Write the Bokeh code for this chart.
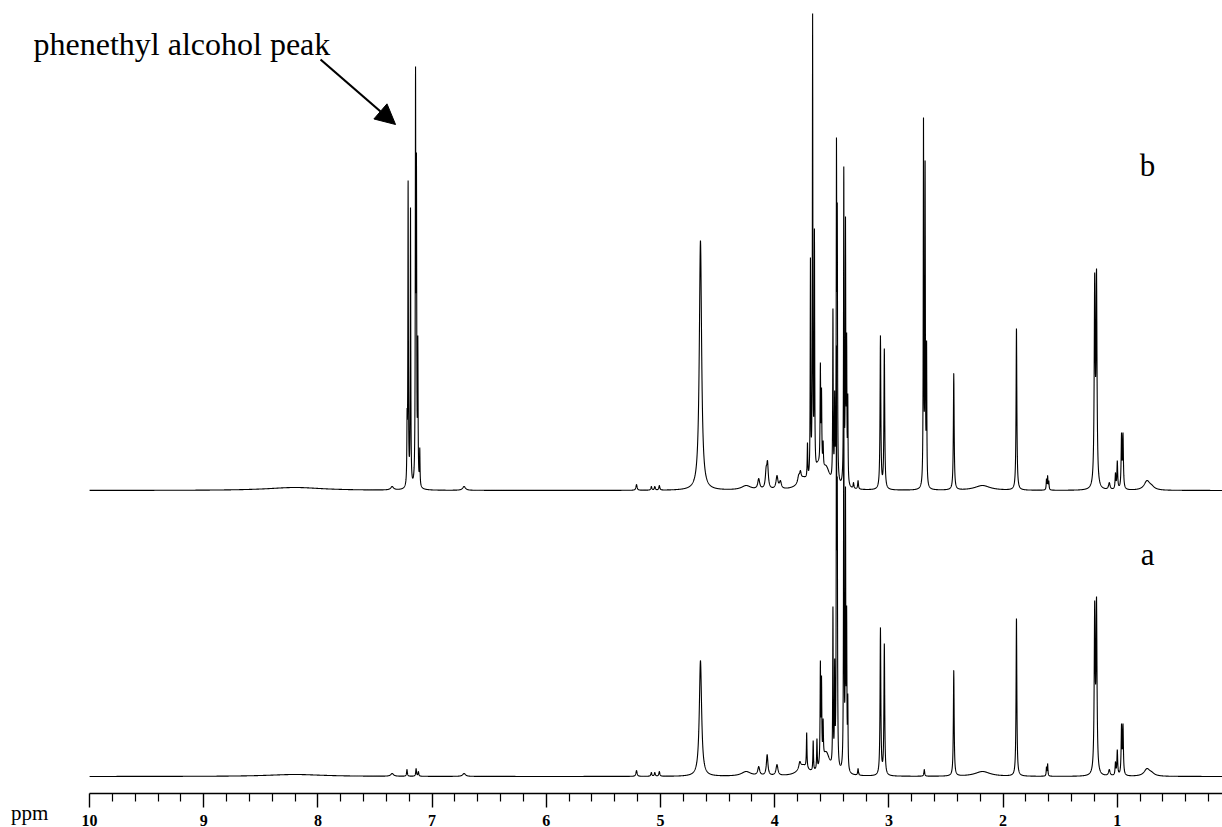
import numpy as np
from bokeh.plotting import figure
from bokeh.models import Range1d, FixedTicker, Label, Arrow, NormalHead
from bokeh.embed import file_html
from bokeh.resources import INLINE

# ---- peak tables: position (ppm), apparent peak-top height, half-width (ppm) ----
# spectrum b : sample with phenethyl alcohol
b_ppm = [8.20, 7.35, 7.219, 7.210, 7.189, 7.145, 7.137, 7.125, 7.108, 6.72,
         5.21, 5.08, 5.05, 5.01, 4.74, 4.70, 4.65, 4.25, 4.14, 4.075, 4.063,
         3.98, 3.95, 3.79, 3.775, 3.75, 3.713, 3.687, 3.668, 3.652, 3.62,
         3.60, 3.59, 3.576, 3.55, 3.49, 3.475, 3.459, 3.452, 3.395, 3.38,
         3.37, 3.36, 3.31, 3.27, 3.074, 3.04, 2.697, 2.683, 2.670, 2.432,
         2.25, 2.18, 1.883, 1.62, 1.61, 1.60, 1.198, 1.182, 1.07, 1.016,
         1.00, 0.963, 0.95, 0.74, 0.70]
b_height = [3, 4, 82, 310, 283, 424, 338, 155, 43, 4,
            6, 4, 4, 5, 3, 4, 250, 5, 12, 24, 30,
            15, 10, 16, 20, 14, 48, 233, 477, 262, 30,
            128, 103, 50, 25, 182, 100, 353, 288, 324, 274,
            158, 97, 8, 10, 155, 142, 373, 330, 150, 117,
            3, 5, 162, 12, 15, 10, 218, 222, 8, 18,
            30, 58, 58, 10, 6]
b_width = [0.30, 0.015, 0.0025, 0.0025, 0.0025, 0.0025, 0.0025, 0.0025, 0.0025, 0.015,
           0.006, 0.005, 0.005, 0.005, 0.01, 0.01, 0.012, 0.05, 0.01, 0.008, 0.008,
           0.01, 0.01, 0.01, 0.008, 0.05, 0.003, 0.0025, 0.0025, 0.0025, 0.03,
           0.003, 0.003, 0.003, 0.04, 0.0025, 0.0025, 0.0025, 0.0025, 0.0025, 0.0025,
           0.0025, 0.0025, 0.004, 0.004, 0.004, 0.004, 0.0025, 0.0025, 0.0025, 0.004,
           0.05, 0.08, 0.004, 0.003, 0.003, 0.003, 0.005, 0.005, 0.008, 0.004,
           0.004, 0.004, 0.004, 0.03, 0.03]

# spectrum a : reference sample
a_ppm = [8.20, 7.35, 7.22, 7.14, 7.12, 6.72, 5.21, 5.08, 5.05, 5.01, 4.70,
         4.65, 4.25, 4.14, 4.066, 3.98, 3.78, 3.75, 3.72, 3.663, 3.63, 3.60,
         3.59, 3.576, 3.55, 3.49, 3.475, 3.459, 3.452, 3.395, 3.38, 3.37,
         3.36, 3.27, 3.074, 3.04, 2.69, 2.432, 2.18, 1.883, 1.62, 1.61,
         1.198, 1.182, 1.07, 1.016, 1.00, 0.963, 0.95, 0.74, 0.70]
a_height = [2, 3, 7, 8, 5, 3, 6, 4, 4, 5, 4,
            116, 5, 10, 22, 12, 15, 12, 44, 36, 38, 116,
            101, 58, 25, 170, 118, 431, 300, 430, 290, 171,
            83, 8, 149, 133, 7, 106, 5, 158, 10, 13,
            176, 180, 7, 15, 27, 53, 53, 8, 5]
a_width = [0.30, 0.015, 0.004, 0.004, 0.004, 0.015, 0.006, 0.005, 0.005, 0.005, 0.01,
           0.012, 0.05, 0.01, 0.008, 0.01, 0.01, 0.05, 0.003, 0.003, 0.003, 0.003,
           0.003, 0.003, 0.04, 0.0025, 0.0025, 0.0025, 0.0025, 0.0025, 0.0025, 0.0025,
           0.0025, 0.004, 0.004, 0.004, 0.004, 0.004, 0.08, 0.004, 0.003, 0.003,
           0.005, 0.005, 0.008, 0.004, 0.004, 0.004, 0.004, 0.03, 0.03]

b_offset = 286          # vertical stacking of trace b above trace a
tick_values = [1, 2, 3, 4, 5, 6, 7, 8, 9, 10]
tick_labels = {t: str(t) for t in tick_values}
minor_values = [round(0.2 * k, 1) for k in range(1, 50) if k % 5 != 0]

PX_PER_PPM = 114.2
PPM_LEFT = 10 + 89 / PX_PER_PPM
PPM_RIGHT = 10 - (1222 - 89) / PX_PER_PPM
AXIS_Y = -17            # intensity level at which the ppm axis is drawn


def lorentz(x, c, w):
    return 1.0 / (1.0 + ((x - c) / w) ** 2)


def amplitudes(ppm, height, width):
    """Line amplitudes whose summed curve reaches each listed peak-top height."""
    c = np.asarray(ppm, float)
    w = np.asarray(width, float)
    target = np.asarray(height, float)
    A = lorentz(c[:, None], c[None, :], w[None, :])
    amp = target.copy()
    for _ in range(400):
        for i in range(len(c)):
            resid = target[i] - A[i] @ amp
            amp[i] = max(0.0, amp[i] + resid)
    return amp


def spectrum(ppm, height, width):
    amp = amplitudes(ppm, height, width)
    grid = np.arange(PPM_RIGHT, 10.0 + 1e-9, 0.0012)
    x = np.unique(np.concatenate([grid, np.asarray(ppm, float)]))
    y = np.zeros_like(x)
    for c, h, w in zip(ppm, amp, width):
        y += h * lorentz(x, c, w)
    return x, y


xb, yb = spectrum(b_ppm, b_height, b_width)
xa, ya = spectrum(a_ppm, a_height, a_width)

p = figure(width=1222, height=827, output_backend="svg", toolbar_location=None,
           x_range=Range1d(PPM_LEFT, PPM_RIGHT), y_range=Range1d(-51, 776),
           y_axis_location=None, min_border_left=0, min_border_right=0,
           min_border_top=0, min_border_bottom=0)
p.outline_line_color = None
p.xgrid.visible = False
p.ygrid.visible = False
p.background_fill_color = "white"
p.border_fill_color = "white"

p.line(xb, yb + b_offset, line_color="black", line_width=1.1)
p.line(xa, ya, line_color="black", line_width=1.1)

ax = p.xaxis[0]
ax.fixed_location = AXIS_Y
ax.ticker = FixedTicker(ticks=tick_values, minor_ticks=minor_values)
ax.major_label_overrides = tick_labels
ax.bounds = (PPM_RIGHT, 10)
ax.axis_line_color = "black"
ax.axis_line_width = 1.4
ax.major_tick_in = 0
ax.major_tick_out = 14
ax.minor_tick_in = 0
ax.minor_tick_out = 8
ax.major_tick_line_width = 1.4
ax.minor_tick_line_width = 1.2
ax.major_label_standoff = 7
ax.major_label_text_font = "Liberation Serif"
ax.major_label_text_font_size = "16px"
ax.major_label_text_font_style = "bold"
ax.major_label_text_color = "black"

p.add_layout(Label(x=10.525, y=-36, text="ppm", text_font="Liberation Serif",
                   text_font_size="21px", text_align="center",
                   text_baseline="middle", text_color="black"))
p.add_layout(Label(x=0.735, y=611, text="b", text_font="Liberation Serif",
                   text_font_size="31px", text_align="center",
                   text_baseline="middle", text_color="black"))
p.add_layout(Label(x=0.735, y=222, text="a", text_font="Liberation Serif",
                   text_font_size="31px", text_align="center",
                   text_baseline="middle", text_color="black"))
p.add_layout(Label(x=10.49, y=733, text="phenethyl alcohol peak",
                   text_font="Liberation Serif", text_font_size="32px",
                   text_align="left", text_baseline="alphabetic",
                   text_color="black"))
p.add_layout(Arrow(end=NormalHead(size=20, fill_color="black", line_color="black"),
                   x_start=7.977, y_start=717, x_end=7.32, y_end=652,
                   line_color="black", line_width=2.2))

open("out.html", "w").write(file_html(p, INLINE))
